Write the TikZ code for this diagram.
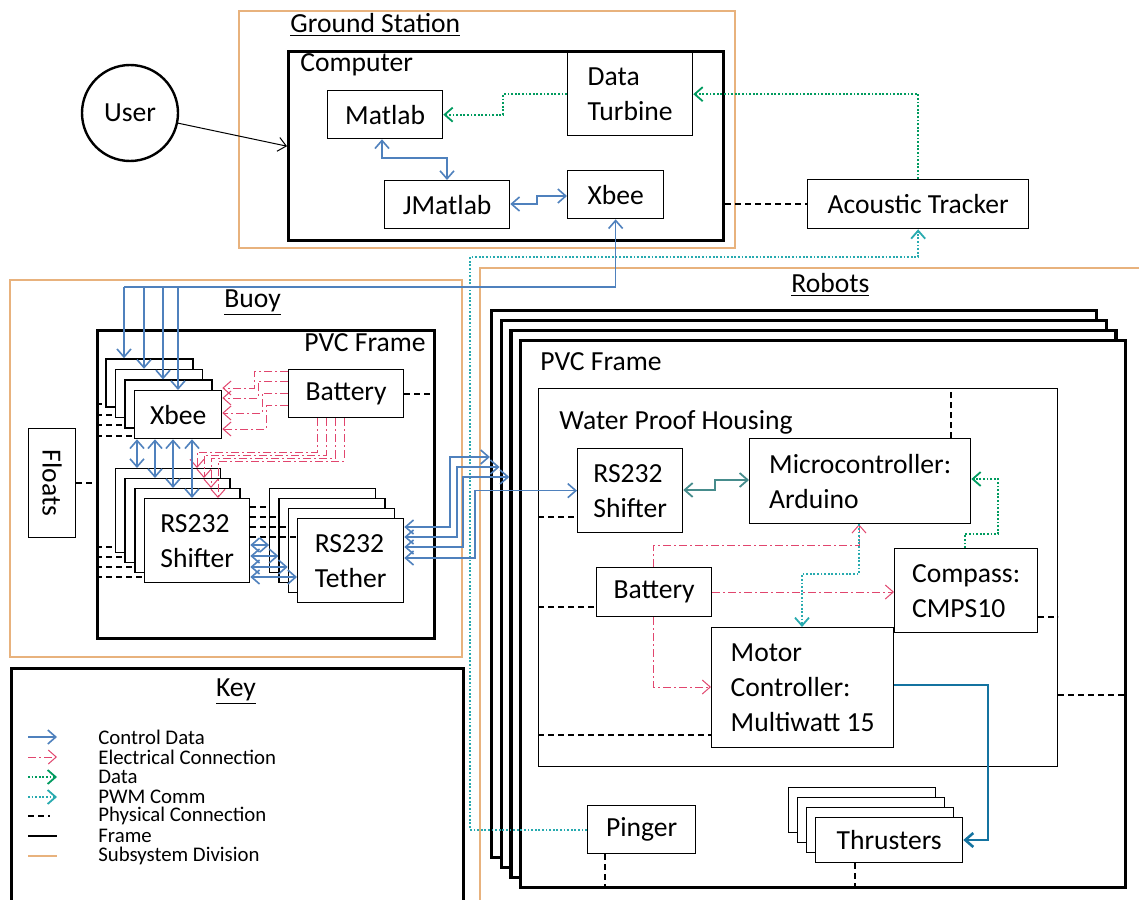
\documentclass[tikz,border=0pt]{standalone}
\usepackage{fontspec}
\setmainfont{Carlito}
\usepackage{graphicx}
\usetikzlibrary{arrows.meta}

\definecolor{ctrlblue}{RGB}{79,129,189}
\definecolor{elecred}{RGB}{225,70,110}
\definecolor{datagreen}{RGB}{0,155,95}
\definecolor{pwmteal}{RGB}{40,170,175}
\definecolor{subsyscol}{RGB}{232,178,125}
\definecolor{thrblue}{RGB}{20,115,160}
\definecolor{linkteal}{RGB}{70,140,140}

\newcommand\mainsize{\fontsize{13.8pt}{17.5pt}\selectfont}
\newcommand\keysize{\fontsize{10.4pt}{11pt}\selectfont}

\tikzset{
  >={Straight Barb[length=4pt,width=7pt]},
  wh/.style 2 args={minimum width=#1*0.5pt, minimum height=#2*0.5pt},
  box/.style={draw, line width=0.65pt, fill=white, align=left, inner sep=1pt, anchor=north west, font=\mainsize},
  frm/.style={draw, line width=1.7pt, fill=white, anchor=north west, inner sep=0pt},
  lbl/.style={inner sep=1pt, font=\mainsize},
  keytxt/.style={anchor=west, inner sep=0pt, font=\keysize},
  subsys/.style={draw=subsyscol, line width=1pt},
  ctrl/.style={draw=ctrlblue, line width=0.8pt},
  elec/.style={draw=elecred, line width=0.5pt, dash pattern=on 4pt off 1.5pt on 1pt off 1.5pt},
  dataln/.style={draw=datagreen, line width=0.9pt, dash pattern=on 0.9pt off 0.9pt},
  pwm/.style={draw=pwmteal, line width=0.9pt, dash pattern=on 0.9pt off 0.9pt},
  phys/.style={draw=black, line width=0.9pt, dash pattern=on 3pt off 2pt},
  thr/.style={draw=thrblue, line width=1.3pt},
  link/.style={draw=linkteal, line width=0.9pt}
}

\begin{document}
\begin{tikzpicture}[x=0.5pt, y=-0.5pt]
\useasboundingbox (0,0) rectangle (1139,899);

% subsystem divisions
\draw[subsys] (239,11) rectangle (735,248);
\draw[subsys] (10,280) rectangle (462,657);
\draw[subsys] (480,268) rectangle (1150,910);

% ground station
\node[lbl, anchor=west] (gst) at (288,25) {\underline{Ground Station}};
\node[frm, wh={435}{189}] (comp) at (287,50) {};
\node[lbl, anchor=west] (compl) at (298,65) {Computer};
\node[box, wh={115}{48}] (mat) at (327,90) {Matlab};
\node[box, wh={125}{83}] (dt) at (567,52) {Data\\Turbine};
\node[box, wh={125}{48}] (jm) at (384,180) {JMatlab};
\node[box, wh={96}{48}] (xg) at (567,170) {Xbee};
\node[circle, draw, line width=1.2pt, minimum size=48pt, font=\mainsize] (user) at (130,113) {User};
\node[box, wh={221}{49}] (at) at (807,179) {Acoustic Tracker};

% buoy
\node[lbl, anchor=west] (buoyt) at (222,303) {\underline{Buoy}};
\node[frm, wh={337}{308}] (bf) at (96,329) {};
\node[lbl, anchor=east] (bfl) at (428,343) {PVC Frame};
\node[box, wh={47}{109}] (fl) at (28,428) {\rotatebox[origin=c]{-90}{Floats}};
\node[box, wh={115}{48}] (bbat) at (288,369) {Battery};
\foreach \k in {3,2,1}
  \node[box, wh={87}{48}] (xb\k) at ({134-9.6*\k},{390-10.6*\k}) {};
\node[box, wh={87}{48}] (xb0) at (134,390) {Xbee};
\foreach \k in {3,2,1}
  \node[box, wh={105}{84}] (sh\k) at ({144-9.8*\k},{498-10*\k}) {};
\node[box, wh={105}{84}] (sh0) at (144,498) {RS232\\Shifter};
\foreach \k in {3,2,1}
  \node[box, wh={106}{84}] (te\k) at ({297-9.3*\k},{518-10*\k}) {};
\node[box, wh={106}{84}] (te0) at (297,518) {RS232\\Tether};

% robots
\node[lbl, anchor=west] (robt) at (789,285) {\underline{Robots}};
\foreach \k in {3,2,1}
  \node[frm, wh={605}{547}] (rf\k) at ({519-9.7*\k},{339-10*\k}) {};
\node[frm, wh={605}{547}] (rf0) at (519,339) {};
\node[lbl, anchor=west] (rfl) at (538,362) {PVC Frame};
\node[box, wh={519}{378}] (hs) at (538,388) {};
\node[lbl, anchor=west] (hsl) at (557,422) {Water Proof Housing};
\node[box, wh={105}{84}] (rs) at (577,448) {RS232\\Shifter};
\node[box, wh={221}{85}] (mc) at (749,438) {Microcontroller:\\Arduino};
\node[box, wh={115}{49}] (bat) at (596,567) {Battery};
\node[box, wh={143}{84}] (cp) at (894,548) {Compass:\\CMPS10};
\node[box, wh={182}{120}] (mot) at (711,627) {Motor\\Controller:\\Multiwatt 15};
\node[box, wh={108}{48}] (ping) at (587,805) {Pinger};
\foreach \k in {3,2,1}
  \node[box, wh={147}{45}] (th\k) at ({815-9*\k},{817-10*\k}) {};
\node[box, wh={147}{45}] (th0) at (815,817) {Thrusters};

% key
\node[frm, wh={452}{250}] (key) at (10,667) {};
\node[lbl] (keyt) at (236,692) {\underline{Key}};
\draw[ctrl,->] (28,737) -- (57,737);
\node[keytxt] (lg1) at (98,737) {Control Data};
\draw[elec,->] (28,757) -- (57,757);
\node[keytxt] (lg2) at (98,757) {Electrical Connection};
\draw[dataln,->] (28,777) -- (57,777);
\node[keytxt] (lg3) at (98,777) {Data};
\draw[pwm,->] (28,797) -- (57,797);
\node[keytxt] (lg4) at (98,797) {PWM Comm};
\draw[phys] (28,816) -- (50,816);
\node[keytxt] (lg5) at (98,816) {Physical Connection};
\draw[line width=1.2pt] (28,836) -- (57,836);
\node[keytxt] (lg6) at (98,836) {Frame};
\draw[subsys] (28,856) -- (57,856);
\node[keytxt] (lg7) at (98,856) {Subsystem Division};

% ground station links
\draw[line width=0.5pt, ->] (user) -- (comp.west);
\draw[dataln,->] (dt.west) -- (503,0 |- dt.west) -- (503,0 |- mat.east) -- (mat.east);
\draw[dataln,->] (at.north) |- (dt.east);
\draw[ctrl,<->] (382,0 |- mat.south) -- (382,158) -- (447,158) -- (447,0 |- jm.north);
\draw[ctrl,<->] (jm.east |- 0,204) -- (537,204) -- (537,196) -- (xg.west |- 0,196);
\draw[phys] (at.west -| comp.east) -- (at.west);
\draw[pwm,->] (ping.west) -- (470,0 |- ping.west) -- (470,257) -- (at.south |- 0,257) -- (at.south);

% xbee bus down to the buoy
\coordinate (bus) at (124,287);
\draw[ctrl,<-] (xg.south) |- (bus);
\foreach \k/\x in {3/124,2/144,1/163,0/178}
  \draw[ctrl,->] (\x,0 |- bus) -- (\x,0 |- xb\k.north);

% buoy links
\foreach \ys/\xv/\ye in {371/254/388, 381/258/398, 393/262/413, 405/266/429}
  \draw[elec,->] (bbat.west |- 0,\ys) -- (\xv,\ys) -- (\xv,\ye) -- (xb0.east |- 0,\ye);
\foreach \xs/\yh/\xe/\k in {317/452/197/3, 326/455/204/2, 335/458/211/1, 344/461/218/0}
  \draw[elec,->] (\xs,0 |- bbat.south) -- (\xs,\yh) -- (\xe,\yh) -- (\xe,0 |- sh\k.north);
\foreach \k/\x in {3/137,2/155,1/173,0/192}
  \draw[ctrl,<->] (\x,0 |- xb0.south) -- (\x,0 |- sh\k.north);
\foreach \k/\y in {3/507,2/517,1/527,0/537}
  \draw[phys] (sh0.east |- 0,\y) -- (te\k.west |- 0,\y);
\foreach \k/\y in {3/545,2/556,1/567,0/577}
  \draw[ctrl,<->] (sh0.east |- 0,\y) -- (te\k.west |- 0,\y);
\foreach \k/\y in {0/436,1/425,2/415,3/404}
  \draw[phys] (bf.west |- 0,\y) -- (xb\k.west |- 0,\y);
\foreach \k/\y in {0/577,1/567,2/557,3/547}
  \draw[phys] (bf.west |- 0,\y) -- (sh\k.west |- 0,\y);
\draw[phys] (fl.east) -- (bf.west |- fl.east);
\draw[phys] (bbat.east) -- (bf.east |- bbat.east);

% tether to the robots
\foreach \y/\xv/\yt/\k in {527/450/457/3, 537/457/467/2, 547/463/477/1}
  \draw[ctrl,<->] (te0.east |- 0,\y) -- (\xv,\y) -- (\xv,\yt) -- (rf\k.west |- 0,\yt);
\draw[ctrl,<->] (te0.east |- 0,558) -- (475,558) -- (475,0 |- rs.west) -- (rs.west);

% robot links
\draw[link,<->] (rs.east |- 0,490) -- (715,490) -- (715,480) -- (mc.west |- 0,480);
\draw[elec,->] (653,0 |- bat.north) -- (653,545) -- (859,545) -- (859,0 |- mc.south);
\draw[elec,->] (bat.east |- 0,592) -- (cp.west |- 0,592);
\draw[elec,->] (653,0 |- bat.south) -- (653,687) -- (mot.west |- 0,687);
\draw[pwm,->] (859,0 |- mc.south) -- (859,574) -- (802,574) -- (802,0 |- mot.north);
\draw[dataln,->] (965,0 |- cp.north) -- (965,534) -- (998,534) -- (998,479) -- (mc.east |- 0,479);
\draw[thr,->] (mot.east |- 0,685) -- (988,685) -- (988,840) -- (th0.east |- 0,840);
\draw[phys] (hs.west |- 0,517) -- (rs.west |- 0,517);
\draw[phys] (hs.west |- 0,607) -- (bat.west |- 0,607);
\draw[phys] (hs.west |- 0,735) -- (mot.west |- 0,735);
\draw[phys] (951,0 |- mc.north) -- (951,0 |- hs.north);
\draw[phys] (cp.east |- 0,617) -- (hs.east |- 0,617);
\draw[phys] (hs.east |- 0,695) -- (rf0.east |- 0,695);
\draw[phys] (605,0 |- ping.south) -- (605,0 |- rf0.south);
\draw[phys] (855,0 |- th0.south) -- (855,0 |- rf0.south);
\end{tikzpicture}
\end{document}
